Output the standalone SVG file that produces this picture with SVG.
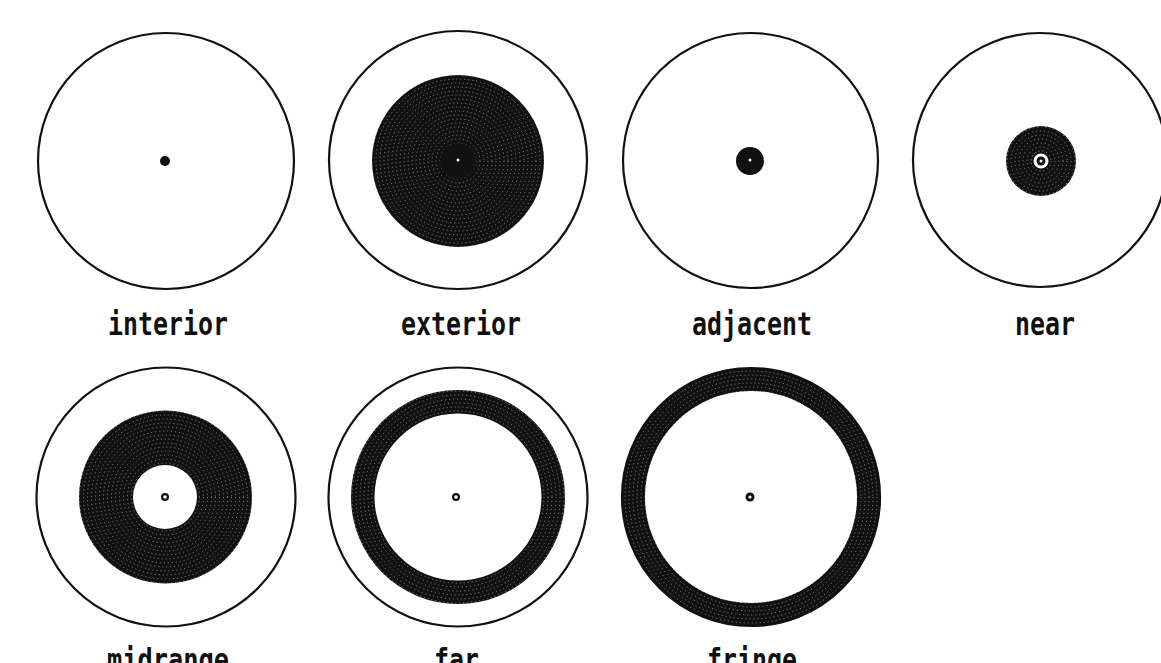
<svg xmlns="http://www.w3.org/2000/svg" width="1161" height="663" viewBox="0 0 1161 663">
<style>
.outer{fill:none;stroke:#111;stroke-width:2.2}
.solid{fill:#111}
.lbl{font-family:"DejaVu Sans Mono","Liberation Mono",monospace;font-weight:bold;font-size:32px;fill:#111}
.tex{fill:none;stroke:#fff;stroke-opacity:0.45;stroke-width:1;stroke-dasharray:1.2 2.8}
</style>
<defs>
<g id="texture">
<circle class="tex" r="6"/><circle class="tex" r="10"/><circle class="tex" r="14"/><circle class="tex" r="18"/><circle class="tex" r="22"/><circle class="tex" r="26"/><circle class="tex" r="30"/><circle class="tex" r="34"/><circle class="tex" r="38"/><circle class="tex" r="42"/><circle class="tex" r="46"/><circle class="tex" r="50"/><circle class="tex" r="54"/><circle class="tex" r="58"/><circle class="tex" r="62"/><circle class="tex" r="66"/><circle class="tex" r="70"/><circle class="tex" r="74"/><circle class="tex" r="78"/><circle class="tex" r="82"/><circle class="tex" r="86"/><circle class="tex" r="90"/><circle class="tex" r="94"/><circle class="tex" r="98"/><circle class="tex" r="102"/><circle class="tex" r="106"/><circle class="tex" r="110"/><circle class="tex" r="114"/><circle class="tex" r="118"/><circle class="tex" r="122"/><circle class="tex" r="126"/>
</g>
<clipPath id="c-ext"><circle cx="458" cy="161" r="86"/></clipPath>
<clipPath id="c-near"><circle cx="1041" cy="161" r="35"/></clipPath>
<clipPath id="c-mid"><path fill-rule="evenodd" d="M79,497a86.5,86.5 0 1,0 173,0a86.5,86.5 0 1,0 -173,0zM133,497a32,32 0 1,0 64,0a32,32 0 1,0 -64,0z"/></clipPath>
<clipPath id="c-far"><path fill-rule="evenodd" d="M351,497a107,107 0 1,0 214,0a107,107 0 1,0 -214,0zM374.5,497a83.5,83.5 0 1,0 167,0a83.5,83.5 0 1,0 -167,0z"/></clipPath>
<clipPath id="c-fri"><path fill-rule="evenodd" d="M622,497a129,129 0 1,0 258,0a129,129 0 1,0 -258,0zM645,497a106,106 0 1,0 212,0a106,106 0 1,0 -212,0z"/></clipPath>
</defs>
<rect width="1161" height="663" fill="#fff"/>

<g id="interior">
<circle class="outer" cx="166" cy="161" r="128"/>
<circle class="solid" cx="165" cy="161" r="5"/>
<text class="lbl" x="108" y="335" textLength="120" lengthAdjust="spacingAndGlyphs">interior</text>
</g>

<g id="exterior">
<circle class="outer" cx="458" cy="160" r="129"/>
<circle class="solid" cx="458" cy="161" r="86"/>
<g clip-path="url(#c-ext)"><use href="#texture" x="458" y="161"/></g>
<circle class="solid" cx="458" cy="161" r="18"/>
<circle cx="458" cy="160" r="1.5" fill="#fff"/>
<text class="lbl" x="401" y="335" textLength="120" lengthAdjust="spacingAndGlyphs">exterior</text>
</g>

<g id="adjacent">
<circle class="outer" cx="750.5" cy="160.5" r="127.5"/>
<circle class="solid" cx="750" cy="161" r="14"/>
<circle cx="750" cy="160" r="1.5" fill="#fff"/>
<text class="lbl" x="692" y="335" textLength="120" lengthAdjust="spacingAndGlyphs">adjacent</text>
</g>

<g id="near">
<circle class="outer" cx="1040" cy="160" r="127"/>
<circle class="solid" cx="1041" cy="161" r="35"/>
<g clip-path="url(#c-near)"><use href="#texture" x="1041" y="161"/></g>
<circle cx="1041" cy="161" r="7.5" fill="#fff"/>
<circle class="solid" cx="1041" cy="161" r="4.5"/>
<circle cx="1041" cy="161" r="1.5" fill="#fff"/>
<text class="lbl" x="1015" y="335" textLength="60" lengthAdjust="spacingAndGlyphs">near</text>
</g>

<g id="midrange">
<circle class="outer" cx="166" cy="497" r="129.5"/>
<path class="solid" fill-rule="evenodd" d="M79,497a86.5,86.5 0 1,0 173,0a86.5,86.5 0 1,0 -173,0zM133,497a32,32 0 1,0 64,0a32,32 0 1,0 -64,0z"/>
<g clip-path="url(#c-mid)"><use href="#texture" x="165.5" y="497"/></g>
<circle class="solid" cx="165" cy="497" r="4"/>
<circle cx="165" cy="497" r="1.8" fill="#fff"/>
<text class="lbl" x="107" y="671" textLength="122" lengthAdjust="spacingAndGlyphs">midrange</text>
</g>

<g id="far">
<circle class="outer" cx="458" cy="497" r="129.5"/>
<path class="solid" fill-rule="evenodd" d="M351,497a107,107 0 1,0 214,0a107,107 0 1,0 -214,0zM374.5,497a83.5,83.5 0 1,0 167,0a83.5,83.5 0 1,0 -167,0z"/>
<g clip-path="url(#c-far)"><use href="#texture" x="458" y="497"/></g>
<circle class="solid" cx="456" cy="497" r="4"/>
<circle cx="456" cy="497" r="1.8" fill="#fff"/>
<text class="lbl" x="434" y="671" textLength="45" lengthAdjust="spacingAndGlyphs">far</text>
</g>

<g id="fringe">
<path class="solid" fill-rule="evenodd" d="M622,497a129,129 0 1,0 258,0a129,129 0 1,0 -258,0zM645,497a106,106 0 1,0 212,0a106,106 0 1,0 -212,0z"/>
<g clip-path="url(#c-fri)"><use href="#texture" x="751" y="497"/></g>
<circle class="outer" cx="751" cy="497" r="129"/>
<circle class="solid" cx="750" cy="497" r="4.5"/>
<circle cx="750" cy="497" r="1.6" fill="#fff"/>
<text class="lbl" x="707" y="671" textLength="90" lengthAdjust="spacingAndGlyphs">fringe</text>
</g>
</svg>
